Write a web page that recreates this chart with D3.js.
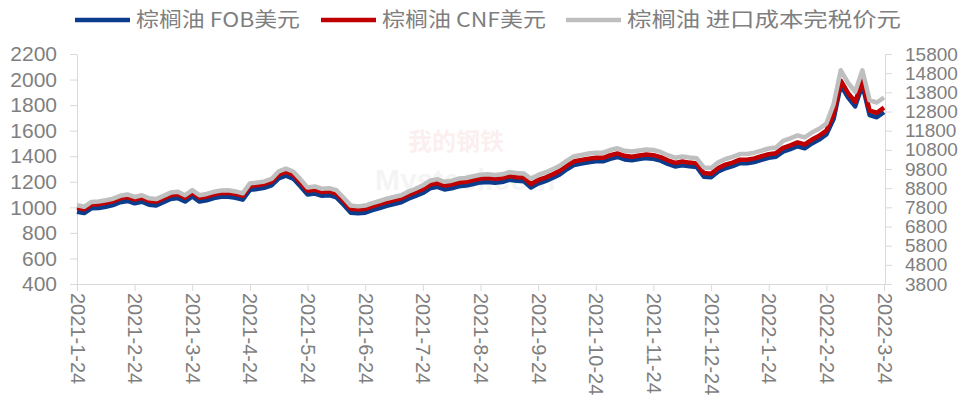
<!DOCTYPE html>
<html lang="zh">
<head>
<meta charset="UTF-8">
<title>棕榈油 FOB / CNF / 进口成本</title>
<script src="https://d3js.org/d3.v7.min.js"></script>
<style>
  body { margin: 0; background: #fff; }
  svg { display: block; }
  .axis text { fill: #7f7f7f; font-family: "Liberation Sans", Arial, sans-serif; font-size: 21px; }
  .axis path, .axis line { stroke: #d9d9d9; }
  .legend text { fill: #7f7f7f; font-family: "Noto Sans CJK SC", sans-serif; font-size: 20px; }
</style>
</head>
<body>
<svg id="chart" width="966" height="414"></svg>
<script>
// tick labels on the x axis (one every 8 points)
const dateLabels = ["2021-1-24","2021-2-24","2021-3-24","2021-4-24","2021-5-24","2021-6-24","2021-7-24",
  "2021-8-24","2021-9-24","2021-10-24","2021-11-24","2021-12-24","2022-1-24","2022-2-24","2022-3-24"];

const seriesNames = ["棕榈油 FOB美元", "棕榈油 CNF美元", "棕榈油 进口成本完税价元"];

// 棕榈油 FOB美元 (left axis)
const fob = [966,955,992,995,1005,1018,1040,1050,1031,1044,
  1020,1015,1040,1065,1072,1045,1085,1045,1055,1072,
  1082,1083,1075,1060,1137,1143,1153,1172,1227,1248,
  1225,1165,1100,1108,1090,1095,1078,1020,958,953,
  958,978,995,1012,1026,1040,1068,1090,1112,1148,
  1160,1140,1149,1165,1170,1183,1195,1199,1193,1198,
  1215,1208,1205,1155,1186,1205,1230,1258,1298,1332,
  1342,1353,1360,1360,1380,1394,1375,1368,1378,1385,
  1380,1365,1340,1320,1330,1322,1316,1240,1235,1280,
  1306,1322,1345,1345,1355,1372,1388,1396,1436,1455,
  1478,1462,1500,1530,1570,1690,1957,1860,1790,1957,
  1722,1705,1745];

// 棕榈油 CNF美元 (left axis)
const cnf = [996,985,1022,1025,1035,1048,1070,1080,1061,1074,
  1050,1045,1070,1095,1102,1075,1115,1075,1085,1102,
  1112,1113,1105,1090,1167,1173,1183,1202,1257,1278,
  1255,1195,1130,1138,1120,1125,1108,1050,988,983,
  988,1008,1025,1042,1056,1070,1098,1120,1142,1178,
  1190,1170,1179,1195,1200,1213,1225,1229,1223,1228,
  1245,1236,1233,1183,1214,1233,1258,1286,1326,1360,
  1370,1381,1388,1388,1408,1422,1403,1396,1406,1413,
  1408,1393,1368,1348,1358,1350,1344,1268,1263,1308,
  1334,1350,1373,1373,1383,1400,1416,1424,1466,1485,
  1508,1492,1530,1560,1600,1725,1992,1895,1825,1992,
  1757,1740,1780];

// 棕榈油 进口成本完税价元 (right axis)
const importCost = [7910,7830,8080,8100,8170,8250,8400,8470,8340,8430,
  8270,8230,8400,8570,8610,8430,8700,8430,8500,8610,
  8680,8690,8630,8530,9050,9090,9150,9280,9680,9820,
  9670,9270,8830,8890,8770,8800,8690,8300,7890,7850,
  7890,8020,8130,8250,8340,8430,8620,8770,8950,9190,
  9270,9130,9190,9300,9330,9420,9500,9530,9490,9520,
  9630,9590,9570,9290,9490,9620,9790,9970,10240,10470,
  10530,10610,10650,10650,10790,10880,10750,10710,10770,10820,
  10790,10690,10520,10390,10450,10400,10360,9880,9850,10150,
  10320,10430,10580,10580,10650,10760,10870,10920,11270,11400,
  11550,11450,11700,11900,12170,13170,14950,14300,13830,14950,
  13380,13270,13530];

const colors = ["#0b3d8c", "#c00000", "#bfbfbf"];
const step = 8;

const svg = d3.select("#chart");
const plot = {left: 77, right: 885, top: 54, bottom: 284};

const x = d3.scaleLinear().domain([0, fob.length - 1]).range([plot.left, plot.right - 1]);
const yL = d3.scaleLinear().domain([400, 2200]).range([plot.bottom, plot.top]);
const yR = d3.scaleLinear().domain([3800, 15800]).range([plot.bottom, plot.top]);

// faint watermark
const wm = svg.append("g").attr("opacity", 0.06);
wm.append("text").attr("x", 408).attr("y", 150)
  .style("font-family", "Noto Sans CJK SC, sans-serif").attr("font-size", 24).attr("font-weight", "bold")
  .attr("fill", "#c00000").text("我的钢铁");
wm.append("text").attr("x", 375).attr("y", 190)
  .style("font-family", "Liberation Sans, Arial, sans-serif").attr("font-size", 30).attr("font-weight", "bold")
  .attr("fill", "#555").text("Mysteel.com");

// axes
const xAxis = d3.axisBottom(x)
  .tickValues(d3.range(0, fob.length, step))
  .tickFormat((d, i) => dateLabels[i])
  .tickSize(7).tickSizeOuter(0);
const gx = svg.append("g").attr("class", "axis").attr("transform", `translate(0,${plot.bottom})`).call(xAxis);
gx.selectAll("text")
  .attr("y", 0).attr("x", 0).attr("dy", "0.35em")
  .attr("transform", "translate(0,9) rotate(90)")
  .style("text-anchor", "start")
  .style("font-size", "20px");

svg.append("g").attr("class", "axis").attr("transform", `translate(${plot.left},0)`)
  .call(d3.axisLeft(yL).tickValues(d3.range(400, 2201, 200)).tickFormat(d3.format("d"))
    .tickSize(7).tickPadding(13).tickSizeOuter(0));

const gr = svg.append("g").attr("class", "axis").attr("transform", `translate(${plot.right},0)`)
  .call(d3.axisRight(yR).tickValues(d3.range(3800, 15801, 1000)).tickFormat(d3.format("d"))
    .tickSize(7).tickPadding(13).tickSizeOuter(0));
gr.selectAll("line, path").attr("stroke", "#ebe8df");
gr.selectAll("text").style("font-size", "19px");

// lines
const lineL = d3.line().x((d, i) => x(i)).y(d => yL(d));
const lineR = d3.line().x((d, i) => x(i)).y(d => yR(d));
[[fob, lineL], [cnf, lineL], [importCost, lineR]].forEach(([data, gen], k) => {
  svg.append("path")
    .datum(data)
    .attr("fill", "none")
    .attr("stroke", colors[k])
    .attr("stroke-width", 4.5)
    .attr("stroke-linejoin", "round")
    .attr("d", gen);
});

// legend
const legendItems = [
  {x: 75, w: 164},
  {x: 321, w: 164},
  {x: 566, w: 274}
];
const lg = svg.append("g").attr("class", "legend");
legendItems.forEach((it, k) => {
  lg.append("line")
    .attr("x1", it.x).attr("x2", it.x + 55)
    .attr("y1", 20).attr("y2", 20)
    .attr("stroke", colors[k]).attr("stroke-width", 4.5);
  lg.append("text")
    .attr("x", it.x + 61).attr("y", 20).attr("dy", "0.35em")
    .attr("textLength", it.w).attr("lengthAdjust", "spacingAndGlyphs")
    .text(seriesNames[k]);
});
</script>
</body>
</html>
